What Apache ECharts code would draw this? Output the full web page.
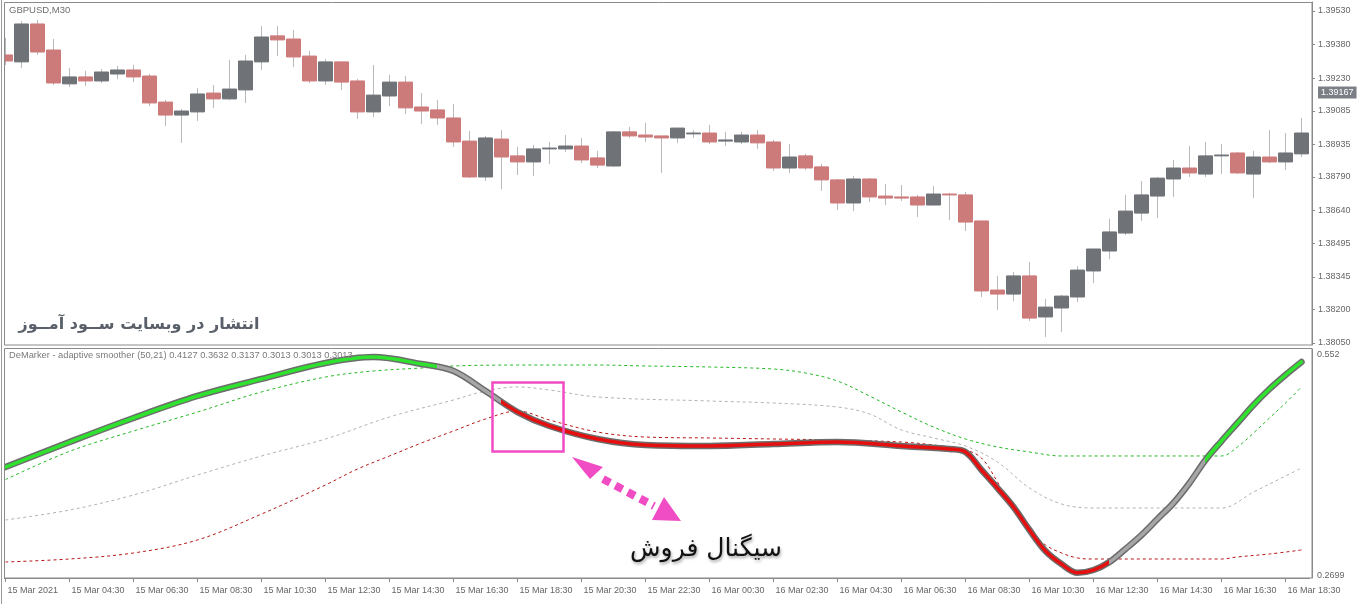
<!DOCTYPE html>
<html><head><meta charset="utf-8">
<script src="https://cdn.jsdelivr.net/npm/echarts@6.0.0/dist/echarts.min.js"></script>
<style>html,body{margin:0;padding:0;background:#fff}#c{width:1360px;height:604px}</style>
</head><body><div id="c"></div>
<script>
const categories = [
'15 Mar 02:30','15 Mar 03:00','15 Mar 03:30','15 Mar 04:00','15 Mar 04:30','15 Mar 05:00','15 Mar 05:30','15 Mar 06:00','15 Mar 06:30','15 Mar 07:00',
'15 Mar 07:30','15 Mar 08:00','15 Mar 08:30','15 Mar 09:00','15 Mar 09:30','15 Mar 10:00','15 Mar 10:30','15 Mar 11:00','15 Mar 11:30','15 Mar 12:00',
'15 Mar 12:30','15 Mar 13:00','15 Mar 13:30','15 Mar 14:00','15 Mar 14:30','15 Mar 15:00','15 Mar 15:30','15 Mar 16:00','15 Mar 16:30','15 Mar 17:00',
'15 Mar 17:30','15 Mar 18:00','15 Mar 18:30','15 Mar 19:00','15 Mar 19:30','15 Mar 20:00','15 Mar 20:30','15 Mar 21:00','15 Mar 21:30','15 Mar 22:00',
'15 Mar 22:30','15 Mar 23:00','15 Mar 23:30','16 Mar 00:00','16 Mar 00:30','16 Mar 01:00','16 Mar 01:30','16 Mar 02:00','16 Mar 02:30','16 Mar 03:00',
'16 Mar 03:30','16 Mar 04:00','16 Mar 04:30','16 Mar 05:00','16 Mar 05:30','16 Mar 06:00','16 Mar 06:30','16 Mar 07:00','16 Mar 07:30','16 Mar 08:00',
'16 Mar 08:30','16 Mar 09:00','16 Mar 09:30','16 Mar 10:00','16 Mar 10:30','16 Mar 11:00','16 Mar 11:30','16 Mar 12:00','16 Mar 12:30','16 Mar 13:00',
'16 Mar 13:30','16 Mar 14:00','16 Mar 14:30','16 Mar 15:00','16 Mar 15:30','16 Mar 16:00','16 Mar 16:30','16 Mar 17:00','16 Mar 17:30','16 Mar 18:00',
'16 Mar 18:30','16 Mar 19:00'];
const firstDateLabel = '15 Mar 2021';

const opens = [1.39334,1.39303,1.39472,1.39356,1.39205,1.39236,1.39218,1.39249,1.39267,1.39240,
1.39124,1.39066,1.39080,1.39164,1.39138,1.39178,1.39303,1.39419,1.39405,1.39329,
1.39218,1.39303,1.39218,1.39080,1.39151,1.39213,1.39102,1.39089,1.39053,1.38950,
1.38790,1.38959,1.38884,1.38857,1.38915,1.38915,1.38928,1.38875,1.38839,1.38991,
1.38977,1.38973,1.38964,1.38982,1.38986,1.38950,1.38946,1.38977,1.38946,1.38830,
1.38884,1.38835,1.38777,1.38674,1.38781,1.38705,1.38701,1.38701,1.38665,1.38714,
1.38710,1.38594,1.38286,1.38268,1.38349,1.38166,1.38206,1.38255,1.38371,1.38460,
1.38540,1.38629,1.38705,1.38781,1.38830,1.38803,1.38884,1.38897,1.38803,1.38879,
1.38857,1.38893];
const closes = [1.39307,1.39472,1.39347,1.39209,1.39236,1.39218,1.39258,1.39267,1.39236,1.39120,
1.39066,1.39084,1.39160,1.39138,1.39182,1.39307,1.39414,1.39401,1.39325,1.39218,
1.39303,1.39213,1.39080,1.39155,1.39213,1.39098,1.39084,1.39053,1.38946,1.38790,
1.38964,1.38879,1.38857,1.38915,1.38919,1.38928,1.38866,1.38843,1.38991,1.38973,
1.38968,1.38964,1.39008,1.38986,1.38946,1.38955,1.38977,1.38942,1.38830,1.38879,
1.38830,1.38777,1.38674,1.38781,1.38701,1.38696,1.38696,1.38665,1.38714,1.38710,
1.38589,1.38282,1.38268,1.38349,1.38161,1.38210,1.38259,1.38375,1.38469,1.38545,
1.38638,1.38710,1.38785,1.38830,1.38808,1.38884,1.38888,1.38808,1.38879,1.38857,
1.38897,1.38986];
const lows = [1.39289,1.39276,1.39334,1.39200,1.39191,1.39196,1.39209,1.39227,1.39213,1.39106,
1.39017,1.38942,1.39040,1.39098,1.39133,1.39120,1.39267,1.39329,1.39280,1.39209,
1.39200,1.39178,1.39049,1.39057,1.39106,1.39071,1.39026,1.39022,1.38924,1.38785,
1.38772,1.38736,1.38799,1.38794,1.38848,1.38901,1.38852,1.38830,1.38835,1.38964,
1.38946,1.38808,1.38942,1.38964,1.38937,1.38928,1.38937,1.38915,1.38817,1.38808,
1.38821,1.38728,1.38643,1.38638,1.38679,1.38665,1.38683,1.38612,1.38665,1.38598,
1.38549,1.38255,1.38197,1.38237,1.38148,1.38077,1.38099,1.38233,1.38317,1.38424,
1.38531,1.38594,1.38607,1.38701,1.38790,1.38790,1.38803,1.38803,1.38696,1.38852,
1.38821,1.38879];
const highs = [1.39410,1.39485,1.39490,1.39405,1.39276,1.39263,1.39271,1.39285,1.39289,1.39249,
1.39133,1.39093,1.39187,1.39200,1.39312,1.39334,1.39463,1.39463,1.39445,1.39352,
1.39316,1.39303,1.39227,1.39289,1.39245,1.39240,1.39164,1.39133,1.39115,1.38995,
1.38973,1.38999,1.38924,1.38933,1.38946,1.38977,1.38964,1.38906,1.38995,1.39013,
1.39031,1.38973,1.39008,1.38999,1.39022,1.38991,1.38991,1.38999,1.38955,1.38937,
1.38893,1.38848,1.38781,1.38794,1.38785,1.38759,1.38754,1.38710,1.38750,1.38719,
1.38723,1.38594,1.38349,1.38366,1.38411,1.38246,1.38264,1.38393,1.38469,1.38603,
1.38710,1.38772,1.38790,1.38866,1.38928,1.38946,1.38937,1.38901,1.38906,1.38999,
1.38986,1.39053];

const priceTicks = [1.38050,1.38200,1.38345,1.38495,1.38640,1.38790,1.38935,1.39085,1.39230,1.39380,1.39530];
const lastPrice = 1.39167;
const demTicks = [0.2699, 0.552];

// [bar index, value]
const demMain = [[0,0.4090],[4,0.4409],[8,0.4716],[12,0.4997],[16,0.5214],[20,0.5418],[23,0.5494],[26,0.5405],[28,0.5316],
[30,0.5060],[32,0.4792],[34,0.4614],[37,0.4448],[40,0.4371],[44,0.4358],[48,0.4384],[52,0.4409],[56,0.4358],[59,0.4320],
[60,0.4282],[61,0.4052],[62,0.3822],[63,0.3580],[64,0.3286],[65,0.3018],[66,0.2852],[67,0.2740],[68,0.2776],[69,0.2878],
[70,0.3044],[71,0.3222],[72,0.3427],[73,0.3631],[74,0.3886],[75,0.4180],[76,0.4422],[77,0.4652],[78,0.4882],[79,0.5086],
[80,0.5265],[81,0.5431]];
const demUpper = [[0,0.3930],[4,0.4290],[8,0.4550],[12,0.4792],[16,0.5048],[20,0.5239],[23,0.5316],[26,0.5354],[28,0.5380],
[32,0.5392],[37,0.5392],[40,0.5380],[44,0.5367],[48,0.5341],[50,0.5290],[52,0.5188],[54,0.4997],[56,0.4792],[58,0.4601],
[60,0.4448],[62,0.4346],[64,0.4282],[66,0.4231],[70,0.4231],[76,0.4231],[77,0.4346],[78,0.4524],[79,0.4716],[80,0.4907],[81,0.5112]];
const demMid = [[0,0.3414],[4,0.3541],[8,0.3733],[12,0.3988],[16,0.4231],[20,0.4448],[24,0.4729],[28,0.4946],[30,0.5060],
[32,0.5112],[34,0.5073],[37,0.4984],[44,0.4933],[48,0.4907],[52,0.4856],[54,0.4767],[56,0.4563],[58,0.4461],[60,0.4358],
[62,0.4154],[64,0.3822],[66,0.3618],[68,0.3567],[76,0.3567],[78,0.3771],[80,0.3975],[81,0.4078]];
const demLower = [[0,0.2878],[4,0.2916],[8,0.2993],[12,0.3159],[16,0.3490],[20,0.3861],[22,0.4065],[24,0.4231],[26,0.4397],
[28,0.4550],[30,0.4703],[32,0.4805],[34,0.4690],[37,0.4537],[40,0.4473],[44,0.4461],[48,0.4448],[52,0.4435],[56,0.4409],
[58,0.4371],[60,0.4307],[61,0.4205],[62,0.3899],[63,0.3541],[64,0.3286],[65,0.3095],[66,0.2993],[67,0.2929],[68,0.2916],
[76,0.2916],[77,0.2942],[79,0.2980],[81,0.3031]];

const FONT = '"Liberation Sans", Arial, sans-serif';
const GREEN = '#2ee22e', GREY = '#a6a6a6', RED = '#e50f0f';

const bodies = opens.map((o, i) => [o, closes[i], Math.min(o, closes[i]), Math.max(o, closes[i])]);
const wicks = opens.map((o, i) => [o, closes[i], lows[i], highs[i]]);

const chart = echarts.init(document.getElementById('c'), null, {renderer: 'canvas'});
const option = {
  animation: false,
  backgroundColor: '#ffffff',
  grid: [
    {left: -2.5, top: 2, width: 1312, height: 343, outerBoundsMode: 'none', containLabel: false},
    {left: -2.5, top: 349, width: 1312, height: 229, outerBoundsMode: 'none', containLabel: false}
  ],
  xAxis: [
    {type: 'category', gridIndex: 0, data: categories, boundaryGap: true,
     axisLine: {show: false}, axisTick: {show: false}, axisLabel: {show: false}, splitLine: {show: false}},
    {type: 'category', gridIndex: 1, data: categories, boundaryGap: true,
     axisLine: {show: true, lineStyle: {color: '#8a8a8a', width: 1}},
     axisTick: {show: true, interval: 3, alignWithLabel: true, length: 4, lineStyle: {color: '#8a8a8a'}},
     axisLabel: {show: true, interval: 3, align: 'left', margin: 8, padding: [0, 0, 0, 2], color: '#666666',
       fontSize: 9, fontFamily: FONT, formatter: (v, i) => i === 0 ? firstDateLabel : v},
     splitLine: {show: false}}
  ],
  yAxis: [
    {type: 'value', gridIndex: 0, position: 'right', offset: 2.5, min: 1.38041, max: 1.39570,
     splitLine: {show: false},
     axisLine: {show: true, lineStyle: {color: '#8a8a8a'}},
     axisTick: {show: true, length: 3, customValues: priceTicks, lineStyle: {color: '#8a8a8a'}},
     axisLabel: {show: true, margin: 6, color: '#666666', fontSize: 9, fontFamily: FONT,
       customValues: priceTicks.concat([lastPrice]),
       formatter: v => Math.abs(v - lastPrice) < 1e-9 ? '{hl|' + v.toFixed(5) + '}' : v.toFixed(5),
       rich: {hl: {backgroundColor: '#7c8086', color: '#ffffff', padding: [2, 3, 1, 3], fontSize: 9, fontFamily: FONT}}}},
    {type: 'value', gridIndex: 1, position: 'right', offset: 2.5, min: 0.26735, max: 0.55966,
     splitLine: {show: false},
     axisLine: {show: true, lineStyle: {color: '#8a8a8a'}},
     axisTick: {show: false},
     axisLabel: {show: true, margin: 5, color: '#666666', fontSize: 9, fontFamily: FONT,
       customValues: demTicks, formatter: v => String(v)}}
  ],
  visualMap: [{
    type: 'piecewise', show: false, dimension: 0, seriesIndex: 6,
    pieces: [
      {lt: 27, color: GREEN},
      {gte: 27, lt: 30.5, color: GREY},
      {gte: 30.5, lt: 69, color: RED},
      {gte: 69, lt: 75, color: GREY},
      {gte: 75, color: GREEN}
    ]
  }],
  series: [
    {type: 'candlestick', xAxisIndex: 0, yAxisIndex: 0, data: wicks, barWidth: 1,
     itemStyle: {color: '#b9b9b9', color0: '#b9b9b9', borderColor: '#b9b9b9', borderColor0: '#b9b9b9', borderWidth: 1}},
    {type: 'candlestick', xAxisIndex: 0, yAxisIndex: 0, data: bodies, barWidth: 14,
     itemStyle: {color: '#6f7378', color0: '#cd7a7a', borderColor: '#6f7378', borderColor0: '#cd7a7a', borderWidth: 1}},
    {type: 'line', xAxisIndex: 1, yAxisIndex: 1, data: demUpper, smooth: 0.35, showSymbol: false,
     lineStyle: {color: '#25b925', width: 1, type: [3, 3]}},
    {type: 'line', xAxisIndex: 1, yAxisIndex: 1, data: demMid, smooth: 0.35, showSymbol: false,
     lineStyle: {color: '#b3b3b3', width: 1, type: [3, 3]}},
    {type: 'line', xAxisIndex: 1, yAxisIndex: 1, data: demLower, smooth: 0.35, showSymbol: false,
     lineStyle: {color: '#b81818', width: 1, type: [3, 3]}},
    {type: 'line', xAxisIndex: 1, yAxisIndex: 1, data: demMain, smooth: 0.35, showSymbol: false,
     lineStyle: {color: '#6c6c6c', width: 6.5, cap: 'round'}},
    {type: 'line', xAxisIndex: 1, yAxisIndex: 1, data: demMain, smooth: 0.35, showSymbol: false,
     lineStyle: {width: 3.5, cap: 'round'}}
  ],
  graphic: [
    {type: 'rect', silent: true, z: 100, shape: {x: 0, y: 0, width: 4, height: 604}, style: {fill: '#ffffff'}},
    {type: 'rect', silent: true, z: 101, shape: {x: 4.5, y: 2.5, width: 1307.5, height: 342.5}, style: {fill: 'none', stroke: '#8a8a8a', lineWidth: 1}},
    {type: 'rect', silent: true, z: 101, shape: {x: 4.5, y: 348.5, width: 1307.5, height: 229.5}, style: {fill: 'none', stroke: '#8a8a8a', lineWidth: 1}},
    {type: 'line', silent: true, z: 101, shape: {x1: 1.5, y1: 0, x2: 1.5, y2: 604}, style: {stroke: '#9a9a9a', lineWidth: 1}},
    {type: 'text', silent: true, z: 102, x: 9, y: 10, style: {text: 'GBPUSD,M30', fill: '#6e6e6e', font: '9.5px ' + FONT, textVerticalAlign: 'middle'}},
    {type: 'text', silent: true, z: 102, x: 9, y: 355, style: {text: 'DeMarker - adaptive smoother (50,21) 0.4127 0.3632 0.3137 0.3013 0.3013 0.3013', fill: '#7a7a7a', font: '9.3px ' + FONT, textVerticalAlign: 'middle'}},
    {type: 'text', silent: true, z: 102, x: 139, y: 325, style: {text: 'انتشار در وبسایت ســود آمــوز', fill: '#5a6069', font: 'bold 16px "DejaVu Sans", sans-serif', textAlign: 'center', textVerticalAlign: 'middle'}},
    {type: 'rect', silent: true, z: 103, shape: {x: 492.5, y: 382.5, width: 71, height: 69}, style: {fill: 'none', stroke: '#f04cc4', lineWidth: 2.5}},
    {type: 'line', silent: true, z: 103, shape: {x1: 603, y1: 479, x2: 654, y2: 506}, style: {stroke: '#f04cc4', lineWidth: 8, lineDash: [8, 6]}},
    {type: 'polygon', silent: true, z: 103, shape: {points: [[572, 457], [603, 467], [590, 479]]}, style: {fill: '#f04cc4'}},
    {type: 'polygon', silent: true, z: 103, shape: {points: [[681, 521], [664, 497], [652, 520]]}, style: {fill: '#f04cc4'}},
    {type: 'text', silent: true, z: 103, x: 706, y: 549, style: {text: 'سیگنال فروش', fill: '#111111', font: '25px "DejaVu Sans", sans-serif', textAlign: 'center', textVerticalAlign: 'middle',
      shadowBlur: 3, shadowColor: 'rgba(0,0,0,0.35)', shadowOffsetX: 1, shadowOffsetY: 2,
      textShadowBlur: 3, textShadowColor: 'rgba(0,0,0,0.35)', textShadowOffsetX: 1, textShadowOffsetY: 2}}
  ]
};
chart.setOption(option);
</script>
</body></html>
